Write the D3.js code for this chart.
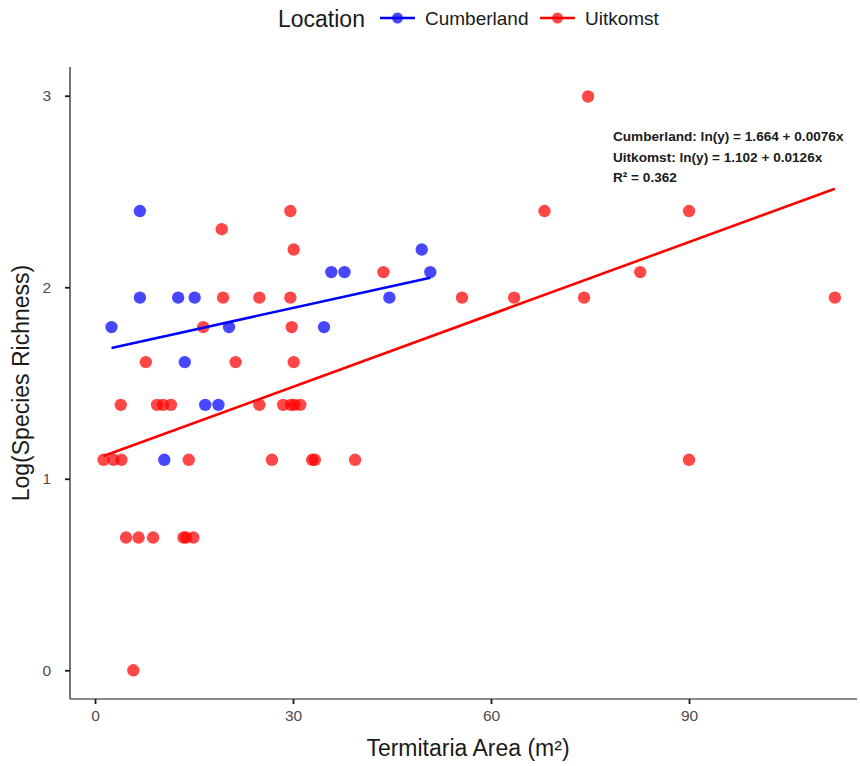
<!DOCTYPE html>
<html>
<head>
<meta charset="utf-8">
<script src="https://cdn.jsdelivr.net/npm/d3@7"></script>
<style>
  body { margin: 0; background: #ffffff; }
  text { font-family: "Liberation Sans", Arial, sans-serif; }
</style>
</head>
<body>
<svg id="chart" width="860" height="766"></svg>
<script>
// Termitaria area (m²) vs log species richness, by location
const locations = ["Cumberland", "Uitkomst"];
const locationColors = ["#0000ff", "#ff0000"];

const cumberlandArea = [2.5, 6.8, 6.8, 12.6, 15.1, 13.6, 16.7, 18.7, 20.3, 10.5, 35.8, 37.8, 34.7, 44.6, 49.5, 50.8];
const cumberlandLogRichness = [1.792, 2.398, 1.946, 1.946, 1.946, 1.609, 1.386, 1.386, 1.792, 1.099, 2.079, 2.079, 1.792, 1.946, 2.197, 2.079];

const uitkomstArea = [
  1.3, 2.8, 4.0, 14.2, 26.8, 32.9, 33.3, 39.4, 90.0,
  3.9, 9.4, 10.3, 11.5, 24.9, 28.5, 29.7, 30.2, 31.1,
  4.7, 6.6, 8.8, 13.4, 13.8, 14.9,
  5.8,
  7.7, 21.3, 30.1,
  16.4, 29.8,
  19.4, 24.9, 29.6, 55.6, 63.5, 74.1, 112.1,
  43.7, 82.6,
  30.1,
  19.2,
  29.6, 68.1, 90.0,
  74.7
];
const uitkomstLogRichness = [
  1.099, 1.099, 1.099, 1.099, 1.099, 1.099, 1.099, 1.099, 1.099,
  1.386, 1.386, 1.386, 1.386, 1.386, 1.386, 1.386, 1.386, 1.386,
  0.693, 0.693, 0.693, 0.693, 0.693, 0.693,
  0.000,
  1.609, 1.609, 1.609,
  1.792, 1.792,
  1.946, 1.946, 1.946, 1.946, 1.946, 1.946, 1.946,
  2.079, 2.079,
  2.197,
  2.303,
  2.398, 2.398, 2.398,
  2.996
];

// Fitted model: ln(y) = intercept + slope * x per location
const fitIntercepts = [1.664, 1.102];
const fitSlopes = [0.0076, 0.0126];
const rSquared = 0.362;

const xTicks = [0, 30, 60, 90];
const yTicks = [0, 1, 2, 3];

const svg = d3.select("#chart");
const panel = { left: 70, right: 857, top: 67, bottom: 699 };

const x = d3.scaleLinear().domain([-3.79, 115.45]).range([panel.left, panel.right]);
const y = d3.scaleLinear().domain([-0.15, 3.15]).range([panel.bottom, panel.top]);

const groups = [
  { name: locations[0], color: locationColors[0], xs: cumberlandArea, ys: cumberlandLogRichness, a: fitIntercepts[0], b: fitSlopes[0] },
  { name: locations[1], color: locationColors[1], xs: uitkomstArea, ys: uitkomstLogRichness, a: fitIntercepts[1], b: fitSlopes[1] }
];

// Axes
const xAxis = svg.append("g")
  .attr("transform", `translate(0,${panel.bottom})`)
  .call(d3.axisBottom(x).tickValues(xTicks).tickFormat(d3.format("d"))
    .tickSize(5).tickPadding(6).tickSizeOuter(0));
const yAxis = svg.append("g")
  .attr("transform", `translate(${panel.left},0)`)
  .call(d3.axisLeft(y).tickValues(yTicks).tickFormat(d3.format("d"))
    .tickSize(5).tickPadding(14).tickSizeOuter(0));

[xAxis, yAxis].forEach(g => {
  g.select(".domain").attr("stroke", "#1a1a1a").attr("stroke-width", 1.2);
  g.selectAll(".tick line").attr("stroke", "#1a1a1a").attr("stroke-width", 1.8);
  g.selectAll(".tick text").attr("fill", "#4d4d4d").attr("font-size", 15.5)
    .attr("font-family", "'Liberation Sans', Arial, sans-serif");
});
// axis lines span the full panel
xAxis.select(".domain").attr("d", `M${panel.left},0H${panel.right}`);
yAxis.select(".domain").attr("d", `M0,${panel.top}V${panel.bottom}`);

// Points
groups.forEach(g => {
  svg.append("g").selectAll("circle")
    .data(g.xs.map((v, i) => [v, g.ys[i]]))
    .join("circle")
    .attr("cx", d => x(d[0]))
    .attr("cy", d => y(d[1]))
    .attr("r", 6.2)
    .attr("fill", g.color)
    .attr("fill-opacity", 0.72);
});

// Fitted lines over each location's range
groups.forEach(g => {
  const [x0, x1] = d3.extent(g.xs);
  svg.append("line")
    .attr("x1", x(x0)).attr("y1", y(g.a + g.b * x0))
    .attr("x2", x(x1)).attr("y2", y(g.a + g.b * x1))
    .attr("stroke", g.color)
    .attr("stroke-width", 2.6);
});

// Equation annotation
const eqLines = [
  `${locations[0]}: ln(y) = ${fitIntercepts[0].toFixed(3)} + ${fitSlopes[0]}x`,
  `${locations[1]}: ln(y) = ${fitIntercepts[1].toFixed(3)} + ${fitSlopes[1]}x`,
  `R² = ${rSquared}`
];
svg.append("g").selectAll("text")
  .data(eqLines)
  .join("text")
  .attr("x", 613)
  .attr("y", (d, i) => 141 + i * 20.5)
  .attr("font-size", 13.6)
  .attr("font-weight", "bold")
  .attr("fill", "#1a1a1a")
  .text(d => d);

// Axis titles
svg.append("text")
  .attr("x", 468)
  .attr("y", 756)
  .attr("text-anchor", "middle")
  .attr("font-size", 23)
  .attr("fill", "#1a1a1a")
  .text("Termitaria Area (m²)");

svg.append("text")
  .attr("transform", `translate(29,${(panel.top + panel.bottom) / 2}) rotate(-90)`)
  .attr("text-anchor", "middle")
  .attr("font-size", 23)
  .attr("fill", "#1a1a1a")
  .text("Log(Species Richness)");

// Legend
const legend = svg.append("g");
legend.append("text")
  .attr("x", 278).attr("y", 27)
  .attr("font-size", 23)
  .attr("fill", "#1a1a1a")
  .text("Location");

const keyStart = [380, 540];
groups.forEach((g, i) => {
  const k = legend.append("g").attr("transform", `translate(${keyStart[i]},18)`);
  k.append("line").attr("x1", 0).attr("x2", 35).attr("y1", 0).attr("y2", 0)
    .attr("stroke", g.color).attr("stroke-width", 2.6);
  k.append("circle").attr("cx", 17.5).attr("cy", 0).attr("r", 5.5)
    .attr("fill", g.color).attr("fill-opacity", 0.72);
  k.append("text").attr("x", 45).attr("y", 7)
    .attr("font-size", 19)
    .attr("fill", "#1a1a1a")
    .text(g.name);
});
</script>
</body>
</html>
